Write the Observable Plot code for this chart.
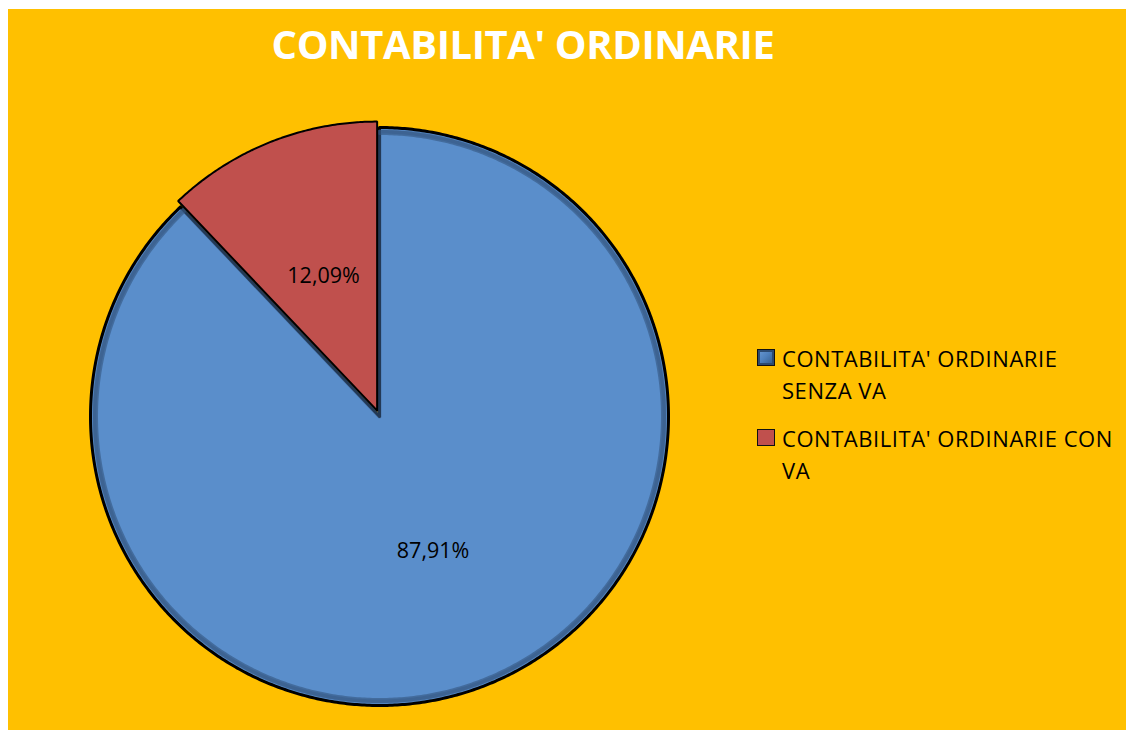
<!DOCTYPE html>
<html>
<head>
<meta charset="utf-8">
<script src="https://cdn.jsdelivr.net/npm/d3@7"></script>
<script src="https://cdn.jsdelivr.net/npm/@observablehq/plot@0.6"></script>
<style>
  html, body { margin: 0; padding: 0; background: #ffffff; }
  body { width: 1126px; height: 730px; position: relative; overflow: hidden; font-family: "Open Sans", sans-serif; }
  #bg { position: absolute; left: 8px; top: 9px; right: 0; bottom: 0; background: #FFC000; }
  #chart { position: absolute; left: 0; top: 0; }
  #title { position: absolute; left: 0; width: 1046px; top: 24px; text-align: center; color: #ffffff;
           font: bold 40px/40px "Open Sans", sans-serif; white-space: nowrap; letter-spacing: -0.4px; }
  .item { position: absolute; left: 757px; font: 22px/32px "Open Sans", sans-serif; color: #000; letter-spacing: 0.55px; }
  .item .sw { position: absolute; left: 0; top: 7.5px; width: 16px; height: 15px; border: 1.5px solid #111; box-sizing: content-box; }
  .item .tx { margin-left: 25px; white-space: nowrap; }
</style>
</head>
<body>
<div id="bg"></div>
<div id="title"></div>
<div id="chart"></div>
<div id="legend"></div>
<script>
// ---- data ----
const chartTitle = "CONTABILITA' ORDINARIE";
const categories = ["CONTABILITA' ORDINARIE SENZA VA", "CONTABILITA' ORDINARIE CON VA"];
const legendLines = [["CONTABILITA' ORDINARIE", "SENZA VA"], ["CONTABILITA' ORDINARIE CON", "VA"]];
const values = [87.91, 12.09];
const valueLabels = ["87,91%", "12,09%"];
const sliceColors = ["#5A8ECB", "#C0504D"];
const explodeOffsets = [0, 0.022];

// ---- geometry via d3.pie ----
const cx = 379, cy = 416, R = 289;
const arcs = d3.pie().sort(null).value(d => d)(values);

function slicePoints(i, r = 1) {
  const a = arcs[i];
  const mid = (a.startAngle + a.endAngle) / 2;
  const ox = explodeOffsets[i] * Math.sin(mid), oy = explodeOffsets[i] * Math.cos(mid);
  const pts = [{slice: categories[i], x: ox, y: oy, color: sliceColors[i]}];
  const n = Math.max(8, Math.ceil((a.endAngle - a.startAngle) / (Math.PI / 360)));
  for (let k = 0; k <= n; k++) {
    const t = a.startAngle + (a.endAngle - a.startAngle) * k / n;
    pts.push({slice: categories[i], x: ox + r * Math.sin(t), y: oy + r * Math.cos(t), color: sliceColors[i]});
  }
  pts.push({slice: categories[i], x: ox, y: oy, color: sliceColors[i]});
  return pts;
}
function rimPoints(i, r) {
  const a = arcs[i];
  const pts = [];
  const n = Math.ceil((a.endAngle - a.startAngle) / (Math.PI / 360));
  for (let k = 0; k <= n; k++) {
    const t = a.startAngle + (a.endAngle - a.startAngle) * k / n;
    pts.push({x: r * Math.sin(t), y: r * Math.cos(t)});
  }
  return pts;
}
const labelData = arcs.map((a, i) => {
  const mid = (a.startAngle + a.endAngle) / 2;
  const d = 0.5 + explodeOffsets[i];
  return {x: d * Math.sin(mid), y: d * Math.cos(mid), label: valueLabels[i]};
});

const blue = slicePoints(0);
const red = slicePoints(1);
const blueInner = slicePoints(0, 1 - 4 / R);
const rim = rimPoints(0, 1 - 5 / R);

const plot = Plot.plot({
  width: 1126,
  height: 730,
  margin: 0,
  x: {domain: [-1, 1], range: [cx - R, cx + R], axis: null},
  y: {domain: [-1, 1], range: [cy + R, cy - R], axis: null},
  color: {type: "identity"},
  style: {background: "transparent", overflow: "visible"},
  marks: [
    Plot.line(blue, {x: "x", y: "y", z: "slice", fill: "color", stroke: "#000", strokeWidth: 3, curve: "linear", strokeLinejoin: "round"}),
    Plot.line(blueInner, {x: "x", y: "y", z: "slice", stroke: "#3F679A", strokeWidth: 4, strokeOpacity: 0.55, curve: "linear"}),
    Plot.line(rim, {x: "x", y: "y", stroke: "#34557F", strokeWidth: 5, strokeOpacity: 0.6}),
    Plot.line(red, {x: "x", y: "y", z: "slice", fill: "color", stroke: "#000", strokeWidth: 2, curve: "linear", strokeLinejoin: "miter"}),
    Plot.text(labelData, {x: "x", y: "y", text: "label", fontSize: 21.5, fontFamily: "Open Sans", fill: "#000"})
  ]
});
document.getElementById("chart").appendChild(plot);

document.getElementById("title").textContent = chartTitle;

const legend = document.getElementById("legend");
const itemTops = [341.5, 421.5];
const swatchStyles = [
  "background: linear-gradient(135deg, #6a9ad3 0%, #4F81BD 45%, #2f5582 100%); box-shadow: inset 0 0 0 2px #2c4a70;",
  "background: #C0504D;"
];
categories.forEach((c, i) => {
  const it = document.createElement("div");
  it.className = "item";
  it.style.top = itemTops[i] + "px";
  it.title = c;
  const sw = document.createElement("span");
  sw.className = "sw";
  sw.setAttribute("style", swatchStyles[i]);
  it.appendChild(sw);
  const tx = document.createElement("div");
  tx.className = "tx";
  tx.innerHTML = legendLines[i].join("<br>");
  it.appendChild(tx);
  legend.appendChild(it);
});
</script>
</body>
</html>
